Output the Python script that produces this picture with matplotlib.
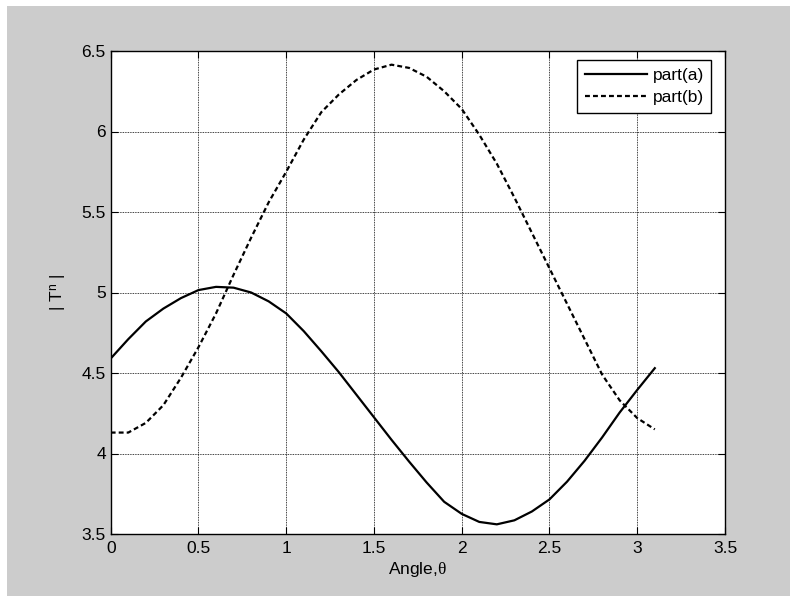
import numpy as np
import matplotlib
matplotlib.use("Agg")
import matplotlib.pyplot as plt
from matplotlib.patches import Rectangle

# angle samples (0 .. 3.1 step 0.1)
angle = [0.0, 0.1, 0.2, 0.3, 0.4, 0.5, 0.6, 0.7, 0.8, 0.9,
         1.0, 1.1, 1.2, 1.3, 1.4, 1.5, 1.6, 1.7, 1.8, 1.9,
         2.0, 2.1, 2.2, 2.3, 2.4, 2.5, 2.6, 2.7, 2.8, 2.9,
         3.0, 3.1]

# |T^n|
part_a = [4.59, 4.71, 4.82, 4.90, 4.965, 5.015, 5.035, 5.03, 5.00, 4.945,
          4.87, 4.76, 4.635, 4.505, 4.365, 4.225, 4.085, 3.95, 3.82, 3.70,
          3.625, 3.575, 3.56, 3.585, 3.64, 3.715, 3.825, 3.955, 4.10, 4.255,
          4.395, 4.53]
part_b = [4.13, 4.13, 4.19, 4.30, 4.47, 4.66, 4.87, 5.11, 5.34, 5.56,
          5.75, 5.95, 6.12, 6.23, 6.32, 6.385, 6.415, 6.395, 6.34, 6.25,
          6.14, 5.98, 5.80, 5.59, 5.37, 5.15, 4.93, 4.71, 4.49, 4.33,
          4.22, 4.15]

x_ticks = [0, 0.5, 1, 1.5, 2, 2.5, 3, 3.5]
x_tick_labels = ['0', '0.5', '1', '1.5', '2', '2.5', '3', '3.5']
y_ticks = [3.5, 4, 4.5, 5, 5.5, 6, 6.5]
y_tick_labels = ['3.5', '4', '4.5', '5', '5.5', '6', '6.5']

FS = 12.5

plt.rcParams['font.family'] = ['Liberation Sans', 'DejaVu Sans']
plt.rcParams['mathtext.fontset'] = 'custom'
plt.rcParams['mathtext.rm'] = 'Liberation Sans'
plt.rcParams['mathtext.it'] = 'Liberation Serif'

W, H = 790, 596
fig = plt.figure(figsize=(W / 100, H / 100), dpi=100)
fig.patch.set_facecolor('white')
# grey MATLAB-style figure background (white strip on top/left)
fig.patches.append(Rectangle((7 / W, 0), 1, 1 - 6 / H, transform=fig.transFigure,
                             facecolor='#cccccc', edgecolor='none', zorder=-10))

ax = fig.add_axes([110.7 / W, 62 / H, (725 - 110.7) / W, (534 - 51) / H])
ax.set_facecolor('white')

ax.plot(angle, part_a, color='black', lw=1.6, label='part(a)')
ax.plot(angle, part_b, color='black', lw=1.6, dashes=(2.2, 1.4), label='part(b)')

ax.set_xlim(0, 3.5)
ax.set_ylim(3.5, 6.5)
ax.set_xticks(x_ticks)
ax.set_xticklabels(x_tick_labels)
ax.set_yticks(y_ticks)
ax.set_yticklabels(y_tick_labels)
ax.tick_params(direction='in', length=5, width=0.8, top=True, right=True,
               labelsize=FS, colors='black')
ax.tick_params(axis='x', pad=5)
ax.tick_params(axis='y', pad=3.5)
for s in ax.spines.values():
    s.set_linewidth(1.0)
    s.set_color('black')

ax.grid(True, color='black', lw=0.6, linestyle=(0, (1, 1)))
ax.set_axisbelow(True)

ax.set_xlabel(r'Angle,$\theta$', fontsize=FS, labelpad=3)
ax.set_ylabel(r'| T$^{\rm n}$ |', fontsize=FS, labelpad=9)

leg = ax.legend(loc='upper right', bbox_to_anchor=(0.978, 0.981),
                fontsize=FS, handlelength=3.6,
                fancybox=False, framealpha=1, edgecolor='black',
                borderaxespad=0, borderpad=0.45, handletextpad=0.3,
                labelspacing=0.4)
leg.get_frame().set_linewidth(1.0)

fig.savefig('out.png', dpi=100)
